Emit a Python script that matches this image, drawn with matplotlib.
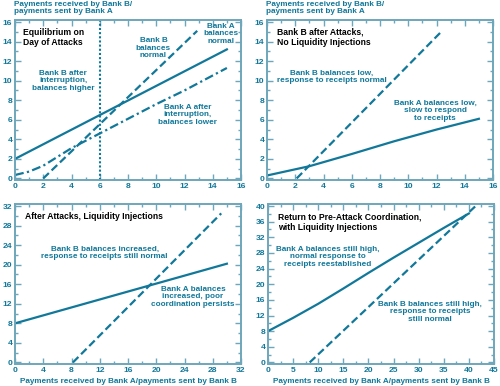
import numpy as np
import matplotlib
matplotlib.use('Agg')
import matplotlib.pyplot as plt
from matplotlib.ticker import MultipleLocator, AutoMinorLocator

plt.rcParams['font.family'] = ['Liberation Sans', 'DejaVu Sans']

TEAL = '#11789a'
SPINE = '#6ea6ba'

# panel 1: equilibrium on day of attacks
p1_a_x = [0, 15]
p1_a_y = [2, 13.2]
p1_b_x = [2, 12.9]
p1_b_y = [0, 15.1]
p1_a2_x = [0, 1, 2, 3, 4, 6, 8, 10, 12, 15]
p1_a2_y = [0.35, 0.7, 1.3, 2.2, 3.1, 4.6, 6.1, 7.6, 9.0, 11.3]
p1_b2_x = 6

# panel 2: bank B after attacks, no liquidity injections
p2_b_x = [2.1, 12.4]
p2_b_y = [0, 15.1]
p2_a_x = [0, 3, 6, 9, 12, 15]
p2_a_y = [0.3, 1.25, 2.5, 3.8, 5.0, 6.1]

# panel 3: after attacks, liquidity injections
p3_a_x = [0, 30]
p3_a_y = [8, 20.2]
p3_b_x = [8.2, 29.2]
p3_b_y = [0, 30.5]

# panel 4: return to pre-attack coordination
p4_a_x = [0, 5, 10, 15, 20, 25, 30, 35, 40]
p4_a_y = [8, 11.4, 15.0, 18.9, 22.9, 26.8, 30.6, 34.4, 38.1]
p4_b_x = [8.3, 41.5]
p4_b_y = [0, 40.2]

fig = plt.figure(figsize=(5, 3.86), dpi=100)
ax1 = fig.add_axes([0.030, 0.5337, 0.452, 0.4145])
ax2 = fig.add_axes([0.534, 0.5337, 0.452, 0.4145])
ax3 = fig.add_axes([0.030, 0.057, 0.452, 0.4145])
ax4 = fig.add_axes([0.536, 0.057, 0.452, 0.4145])

def style(ax, xmax, xstep, ymax, ystep):
    ax.set_xlim(0, xmax)
    ax.set_ylim(-ymax * 0.01, ymax * 1.013)
    ax.xaxis.set_major_locator(MultipleLocator(xstep))
    ax.yaxis.set_major_locator(MultipleLocator(ystep))
    ax.xaxis.set_minor_locator(AutoMinorLocator(2))
    ax.yaxis.set_minor_locator(AutoMinorLocator(2))
    for s in ax.spines.values():
        s.set_color(SPINE)
        s.set_linewidth(1.4)
    ax.tick_params(which='both', direction='in', top=True, right=True,
                   color=SPINE, width=1, labelcolor=TEAL, labelsize=6.1, pad=2)
    ax.tick_params(which='major', length=4)
    ax.tick_params(which='minor', length=2.5)
    for lab in ax.get_xticklabels() + ax.get_yticklabels():
        lab.set_fontweight('bold')

lw = 1.6
dash = (0, (3.5, 1.7))
ts = 5.9   # teal notes
bs = 6.2   # black panel titles

# panel 1
ax1.plot(p1_a_x, p1_a_y, color=TEAL, lw=lw)
ax1.plot(p1_b_x, p1_b_y, color=TEAL, lw=lw, linestyle=dash)
ax1.plot(p1_a2_x, p1_a2_y, color=TEAL, lw=lw, linestyle=(0, (4, 1.5, 1, 1.5)))
ax1.axvline(p1_b2_x, color=TEAL, lw=1.5, linestyle=(0, (1, 1)))
style(ax1, 16, 2, 16, 2)
ax1.text(0.6, 15.4, 'Equilibrium on\nDay of Attacks', fontsize=bs, fontweight='bold',
         color='black', va='top', ha='left', linespacing=1.15)
ax1.text(3.4, 10.0, 'Bank B after\ninterruption,\nbalances higher', fontsize=ts,
         fontweight='bold', color=TEAL, ha='center', va='center', linespacing=1.1)
ax1.text(9.8, 13.3, 'Bank B\nbalances\nnormal', fontsize=ts, fontweight='bold',
         color=TEAL, ha='center', va='center', linespacing=1.1)
ax1.text(14.6, 14.8, 'Bank A\nbalances\nnormal', fontsize=ts, fontweight='bold',
         color=TEAL, ha='center', va='center', linespacing=1.1)
ax1.text(12.2, 6.5, 'Bank A after\ninterruption,\nbalances lower', fontsize=ts,
         fontweight='bold', color=TEAL, ha='center', va='center', linespacing=1.1)

# panel 2
ax2.plot(p2_b_x, p2_b_y, color=TEAL, lw=lw, linestyle=dash)
ax2.plot(p2_a_x, p2_a_y, color=TEAL, lw=lw)
style(ax2, 16, 2, 16, 2)
ax2.text(0.7, 15.4, 'Bank B after Attacks,\nNo Liquidity Injections', fontsize=bs,
         fontweight='bold', color='black', va='top', ha='left', linespacing=1.15)
ax2.text(4.6, 10.4, 'Bank B balances low,\nresponse to receipts normal', fontsize=ts,
         fontweight='bold', color=TEAL, ha='center', va='center', linespacing=1.1)
ax2.text(11.9, 6.9, 'Bank A balances low,\nslow to respond\nto receipts', fontsize=ts,
         fontweight='bold', color=TEAL, ha='center', va='center', linespacing=1.1)

# panel 3
ax3.plot(p3_a_x, p3_a_y, color=TEAL, lw=lw)
ax3.plot(p3_b_x, p3_b_y, color=TEAL, lw=lw, linestyle=dash)
style(ax3, 32, 4, 32, 4)
ax3.text(1.4, 29.8, 'After Attacks, Liquidity Injections', fontsize=bs,
         fontweight='bold', color='black', va='center', ha='left')
ax3.text(12.7, 22.4, 'Bank B balances increased,\nresponse to receipts still normal',
         fontsize=ts, fontweight='bold', color=TEAL, ha='center', va='center',
         linespacing=1.1)
ax3.text(25.2, 13.4, 'Bank A balances\nincreased, poor\ncoordination persists',
         fontsize=ts, fontweight='bold', color=TEAL, ha='center', va='center',
         linespacing=1.1)

# panel 4
ax4.plot(p4_a_x, p4_a_y, color=TEAL, lw=lw)
ax4.plot(p4_b_x, p4_b_y, color=TEAL, lw=lw, linestyle=dash)
style(ax4, 45, 5, 40, 4)
ax4.text(2.0, 35.9, 'Return to Pre-Attack Coordination,\nwith Liquidity Injections',
         fontsize=bs, fontweight='bold', color='black', va='center', ha='left',
         linespacing=1.15)
ax4.text(11.9, 27.0, 'Bank A balances still high,\nnormal response to\nreceipts reestablished',
         fontsize=ts, fontweight='bold', color=TEAL, ha='center', va='center',
         linespacing=1.1)
ax4.text(32.3, 12.9, 'Bank B balances still high,\nresponse to receipts\nstill normal',
         fontsize=ts, fontweight='bold', color=TEAL, ha='center', va='center',
         linespacing=1.1)

# axis titles
for x in [0.028, 0.532]:
    fig.text(x, 0.997, 'Payments received by Bank B/\npayments sent by Bank A', fontsize=5.9,
             fontweight='bold', color=TEAL, ha='left', va='top', linespacing=1.05)
for ax in [ax3, ax4]:
    ax.set_xlabel('Payments received by Bank A/payments sent by Bank B', fontsize=5.9,
                  fontweight='bold', color=TEAL, labelpad=3)

fig.savefig('out.png', dpi=100)
